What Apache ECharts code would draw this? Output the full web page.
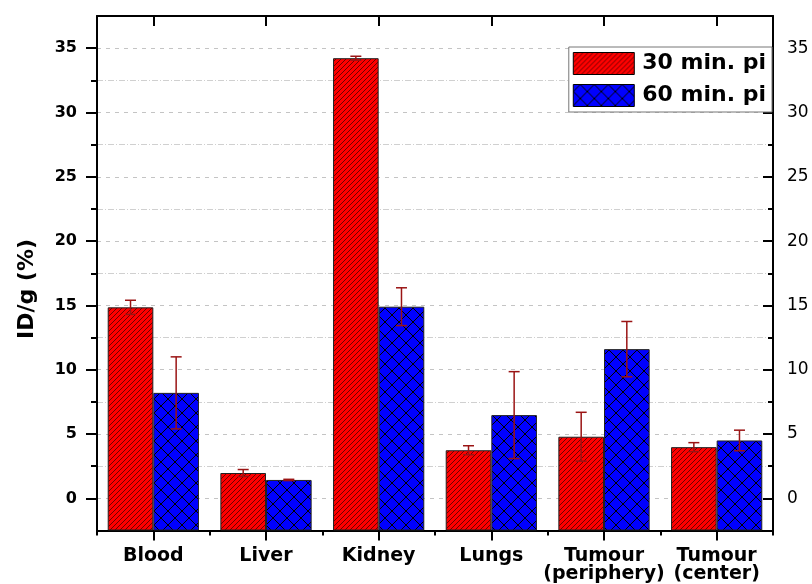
<!DOCTYPE html>
<html>
<head>
<meta charset="utf-8">
<script src="https://cdn.jsdelivr.net/npm/echarts@6/dist/echarts.min.js"></script>
<style>
  html, body { margin: 0; padding: 0; background: #fff; }
  #chart { width: 812px; height: 584px; }
</style>
</head>
<body>
<div id="chart"></div>
<script>
// Organ uptake, %ID/g, at two time points after injection
const categories = ['Blood', 'Liver', 'Kidney', 'Lungs', 'Tumour\n(periphery)', 'Tumour\n(center)'];
const seriesNames = ['30 min. pi', '60 min. pi'];
const mean30 = [14.85, 1.97, 34.22, 3.74, 4.79, 3.98];
const err30 = [0.55, 0.27, 0.15, 0.35, 1.9, 0.35];
const mean60 = [8.2, 1.43, 14.9, 6.47, 11.6, 4.5];
const err60 = [2.8, 0.05, 1.47, 3.38, 2.15, 0.8];
const majorTicks = [0, 5, 10, 15, 20, 25, 30, 35];
const minorTicks = [2.5, 7.5, 12.5, 17.5, 22.5, 27.5, 32.5];

const FONT = 'DejaVu Sans';

// Hatched fills: diagonal lines on red, diamond cross-hatch on blue
function hatchRed() {
  const c = document.createElement('canvas');
  c.width = 5; c.height = 5;
  const g = c.getContext('2d');
  g.fillStyle = '#ff0000';
  g.fillRect(0, 0, 5, 5);
  g.strokeStyle = 'rgba(40,0,0,0.85)';
  g.lineWidth = 0.8;
  g.beginPath();
  g.moveTo(0, 5); g.lineTo(5, 0);
  g.moveTo(-1, 1); g.lineTo(1, -1);
  g.moveTo(4, 6); g.lineTo(6, 4);
  g.stroke();
  return c;
}
function hatchBlue() {
  const s = 14, h = s / 2;
  const c = document.createElement('canvas');
  c.width = s; c.height = s;
  const g = c.getContext('2d');
  g.fillStyle = '#0000ff';
  g.fillRect(0, 0, s, s);
  g.strokeStyle = '#000';
  g.lineWidth = 1;
  g.beginPath();
  g.moveTo(0, h); g.lineTo(h, 0); g.lineTo(s, h); g.lineTo(h, s); g.closePath();
  g.stroke();
  return c;
}

const fill30 = { image: hatchRed(), repeat: 'repeat' };
const fill60 = { image: hatchBlue(), repeat: 'repeat' };

const CAT_GAP = 0.19;

function errData(means, errs) {
  return means.map((m, i) => [i, m - errs[i], m + errs[i]]);
}

// Error bar with caps, centred on the left (-1) or right (+1) bar of a group
function errRenderer(side) {
  return function (params, api) {
    const i = api.value(0);
    const lo = api.coord([i, api.value(1)]);
    const hi = api.coord([i, api.value(2)]);
    const catW = api.size([1, 0])[0];
    const barW = catW * (1 - CAT_GAP) / 2;
    const x = lo[0] + side * barW / 2;
    const cap = 5.5;
    const st = { stroke: '#9a1414', lineWidth: 1.5 };
    return {
      type: 'group',
      children: [
        { type: 'line', shape: { x1: x, y1: hi[1], x2: x, y2: lo[1] }, style: st },
        { type: 'line', shape: { x1: x - cap, y1: hi[1], x2: x + cap, y2: hi[1] }, style: st },
        { type: 'line', shape: { x1: x - cap, y1: lo[1], x2: x + cap, y2: lo[1] }, style: st }
      ]
    };
  };
}

const axisLineStyle = { color: '#000', width: 2 };
const tickStyle = { width: 2, color: '#000' };

const option = {
  animation: false,
  backgroundColor: '#fff',
  grid: { left: 97, right: 39, top: 16, bottom: 52, containLabel: false },
  legend: {
    data: seriesNames,
    orient: 'vertical',
    right: 40,
    top: 47,
    padding: [5, 6, 5, 4],
    itemGap: 9,
    itemWidth: 61,
    itemHeight: 22,
    icon: 'rect',
    backgroundColor: '#fff',
    borderColor: '#777',
    borderWidth: 1,
    borderRadius: 0,
    itemStyle: { borderColor: '#000', borderWidth: 1 },
    textStyle: { fontFamily: FONT, fontWeight: 'bold', fontSize: 22, color: '#000', padding: [0, 0, 0, 3] }
  },
  xAxis: [
    {
      // category labels with long ticks at the group centres
      type: 'category',
      data: categories,
      position: 'bottom',
      axisLine: { onZero: false, lineStyle: axisLineStyle },
      axisTick: { show: true, alignWithLabel: true, length: 10, lineStyle: tickStyle },
      axisLabel: {
        margin: 17,
        fontFamily: FONT, fontWeight: 'bold', fontSize: 19, color: '#000',
        lineHeight: 18, interval: 0
      },
      splitLine: { show: false }
    },
    {
      // short ticks on the group boundaries
      type: 'category',
      data: categories,
      position: 'bottom',
      axisLine: { show: false, onZero: false },
      axisTick: { show: true, length: 5, lineStyle: tickStyle },
      axisLabel: { show: false },
      splitLine: { show: false }
    },
    {
      // top frame with inward ticks
      type: 'category',
      data: categories,
      position: 'top',
      axisLine: { onZero: false, lineStyle: axisLineStyle },
      axisTick: { show: true, inside: true, alignWithLabel: true, length: 10, lineStyle: tickStyle },
      axisLabel: { show: false },
      splitLine: { show: false }
    }
  ],
  yAxis: [
    {
      type: 'value',
      position: 'left',
      min: -2.5, max: 37.5, interval: 2.5,
      startValue: -2.5,
      axisLine: { show: true, onZero: false, lineStyle: axisLineStyle },
      axisTick: { show: true, length: 11, customValues: majorTicks, lineStyle: tickStyle },
      axisLabel: {
        customValues: majorTicks, margin: 20,
        fontFamily: FONT, fontWeight: 'bold', fontSize: 16, color: '#000'
      },
      splitLine: { show: true, lineStyle: { color: '#c4c4c4', width: 1, type: [4, 5] } }
    },
    {
      type: 'value',
      position: 'left',
      min: -2.5, max: 37.5, interval: 2.5,
      axisLine: { show: false, onZero: false },
      axisTick: { show: true, length: 6, customValues: minorTicks, lineStyle: tickStyle },
      axisLabel: { show: false },
      splitLine: { show: true, lineStyle: { color: '#d0d0d0', width: 1, type: [6, 2, 1, 2] } }
    },
    {
      type: 'value',
      position: 'right',
      min: -2.5, max: 37.5, interval: 2.5,
      axisLine: { show: true, onZero: false, lineStyle: axisLineStyle },
      axisTick: { show: true, inside: true, length: 10, customValues: majorTicks, lineStyle: tickStyle },
      axisLabel: {
        customValues: majorTicks, margin: 14,
        fontFamily: FONT, fontSize: 17, color: '#000'
      },
      splitLine: { show: false }
    },
    {
      type: 'value',
      position: 'right',
      min: -2.5, max: 37.5, interval: 2.5,
      axisLine: { show: false, onZero: false },
      axisTick: { show: true, inside: true, length: 5, customValues: minorTicks, lineStyle: tickStyle },
      axisLabel: { show: false },
      splitLine: { show: false }
    }
  ],
  graphic: [
    {
      type: 'text',
      x: 27, y: 289,
      rotation: Math.PI / 2,
      style: {
        text: 'ID/g (%)',
        fontFamily: FONT, fontWeight: 'bold', fontSize: 22, fill: '#000',
        align: 'center', verticalAlign: 'middle'
      }
    }
  ],
  series: [
    {
      name: seriesNames[0],
      type: 'bar',
      xAxisIndex: 0, yAxisIndex: 0,
      data: mean30,
      barGap: '0%',
      barCategoryGap: (CAT_GAP * 100) + '%',
      itemStyle: { color: fill30, borderColor: '#222', borderWidth: 1 },
      z: 3
    },
    {
      name: seriesNames[1],
      type: 'bar',
      xAxisIndex: 0, yAxisIndex: 0,
      data: mean60,
      barGap: '0%',
      barCategoryGap: (CAT_GAP * 100) + '%',
      itemStyle: { color: fill60, borderColor: '#222', borderWidth: 1 },
      z: 3
    },
    {
      name: 'err30',
      type: 'custom',
      xAxisIndex: 0, yAxisIndex: 0,
      data: errData(mean30, err30),
      renderItem: errRenderer(-1),
      z: 5
    },
    {
      name: 'err60',
      type: 'custom',
      xAxisIndex: 0, yAxisIndex: 0,
      data: errData(mean60, err60),
      renderItem: errRenderer(1),
      z: 5
    }
  ]
};

const chart = echarts.init(document.getElementById('chart'), null, { renderer: 'canvas' });
chart.setOption(option);
</script>
</body>
</html>
